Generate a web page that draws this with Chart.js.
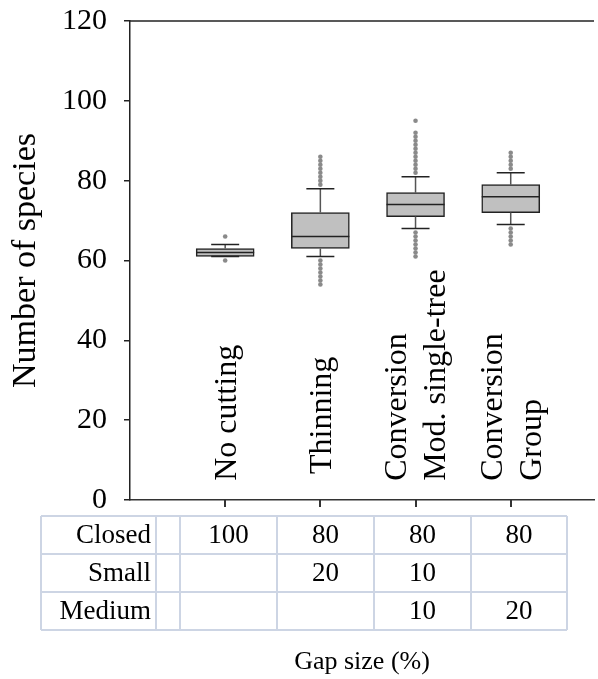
<!DOCTYPE html>
<html>
<head>
<meta charset="utf-8">
<script src="https://cdn.jsdelivr.net/npm/chart.js@4"></script>
<style>
  body { margin: 0; background: #fff; }
  #wrap { width: 598px; height: 679px; position: relative; }
</style>
</head>
<body>
<div id="wrap"><canvas id="boxChart"></canvas></div>
<script>
// Box plot data (number of species)
const categoryLabels = [['No cutting'], ['Thinning'], ['Conversion', 'Mod. single-tree'], ['Conversion', 'Group']];
const q1 = [61, 63, 71, 72];
const medians = [62, 66, 74, 76];
const q3 = [63, 72, 77, 79];
const whiskerLow = [61, 61, 68, 69];
const whiskerHigh = [64, 78, 81, 82];
const outliers = [
    [60, 66],
    [54, 55, 56, 57, 58, 59, 60, 79, 80, 81, 82, 83, 84, 85, 86],
    [61, 62, 63, 64, 65, 66, 67, 82, 83, 84, 85, 86, 87, 88, 89, 90, 91, 92, 95],
    [64, 65, 66, 67, 68, 83, 84, 85, 86, 87]
];
const yTicks = [0, 20, 40, 60, 80, 100, 120];

// Gap size table (%)
const gapRows = ['Closed', 'Small', 'Medium'];
const closedGap = [100, 80, 80, 80];
const smallGap = [null, 20, 10, null];
const mediumGap = [null, null, 10, 20];

const FONT = "'Liberation Serif', 'Times New Roman', serif";

const boxData = categoryLabels.map((c, i) => ({ x: i + 1, y: [q1[i], q3[i]] }));
const outlierData = [];
outliers.forEach((list, i) => list.forEach(v => outlierData.push({ x: i + 1, y: v })));

// whiskers, medians, labels and the gap table
const boxExtras = {
    id: 'boxExtras',
    afterDatasetsDraw(chart) {
        const { ctx, chartArea, scales: { x, y } } = chart;
        ctx.save();
        categoryLabels.forEach((c, i) => {
            const cx = x.getPixelForValue(i + 1);
            const half = 29, cap = 14;
            // stems
            ctx.strokeStyle = '#555';
            ctx.lineWidth = 1.5;
            ctx.beginPath();
            ctx.moveTo(cx, y.getPixelForValue(q3[i]));
            ctx.lineTo(cx, y.getPixelForValue(whiskerHigh[i]));
            ctx.moveTo(cx, y.getPixelForValue(q1[i]));
            ctx.lineTo(cx, y.getPixelForValue(whiskerLow[i]));
            ctx.stroke();
            // caps + median
            ctx.strokeStyle = '#222';
            ctx.beginPath();
            ctx.moveTo(cx - cap, y.getPixelForValue(whiskerHigh[i]));
            ctx.lineTo(cx + cap, y.getPixelForValue(whiskerHigh[i]));
            ctx.moveTo(cx - cap, y.getPixelForValue(whiskerLow[i]));
            ctx.lineTo(cx + cap, y.getPixelForValue(whiskerLow[i]));
            ctx.moveTo(cx - half, y.getPixelForValue(medians[i]));
            ctx.lineTo(cx + half, y.getPixelForValue(medians[i]));
            ctx.stroke();
            // rotated category label
            ctx.fillStyle = '#000';
            ctx.font = '32px ' + FONT;
            ctx.textAlign = 'left';
            ctx.textBaseline = 'middle';
            const lines = c;
            const start = i === 1 ? 6.5 : 4.8;
            lines.forEach((line, k) => {
                const off = (k - (lines.length - 1) / 2) * 39;
                ctx.save();
                ctx.translate(cx + off, y.getPixelForValue(start));
                ctx.rotate(-Math.PI / 2);
                ctx.fillText(line, 0, 2);
                ctx.restore();
            });
        });
        // top frame line
        ctx.strokeStyle = '#222';
        ctx.lineWidth = 1.5;
        ctx.beginPath();
        ctx.moveTo(chartArea.left, chartArea.top);
        ctx.lineTo(chartArea.right, chartArea.top);
        ctx.stroke();
        ctx.restore();
    },
    afterDraw(chart) {
        const { ctx, chartArea, scales: { x } } = chart;
        // x tick marks below the axis
        ctx.save();
        ctx.strokeStyle = '#333';
        ctx.lineWidth = 2;
        ctx.beginPath();
        categoryLabels.forEach((c, i) => {
            const cx = Math.round(x.getPixelForValue(i + 1));
            ctx.moveTo(cx, chartArea.bottom);
            ctx.lineTo(cx, chartArea.bottom + 7);
        });
        ctx.stroke();
        ctx.restore();

        const cols = [41, 156, 180, 277, 374, 471, 567];
        const rowsY = [516, 554, 592, 630];
        const values = [closedGap, smallGap, mediumGap];
        ctx.save();
        ctx.strokeStyle = '#cdd5e4';
        ctx.lineWidth = 2;
        ctx.beginPath();
        rowsY.forEach(ry => { ctx.moveTo(cols[0], ry); ctx.lineTo(cols[cols.length - 1], ry); });
        cols.forEach(cx => { ctx.moveTo(cx, rowsY[0]); ctx.lineTo(cx, rowsY[rowsY.length - 1]); });
        ctx.stroke();
        ctx.fillStyle = '#000';
        ctx.font = '27px ' + FONT;
        ctx.textBaseline = 'middle';
        gapRows.forEach((name, r) => {
            const my = (rowsY[r] + rowsY[r + 1]) / 2 + 1;
            ctx.textAlign = 'right';
            ctx.fillText(name, 151, my);
            ctx.textAlign = 'center';
            values[r].forEach((v, c) => {
                if (v === null) return;
                ctx.fillText(String(v), (cols[c + 2] + cols[c + 3]) / 2, my);
            });
        });
        ctx.restore();
    }
};

const ctx = document.getElementById('boxChart').getContext('2d');
const boxChart = new Chart(ctx, {
    type: 'bar',
    data: {
        datasets: [
            {
                type: 'bar',
                data: boxData,
                backgroundColor: '#c0c0c0',
                borderColor: '#222',
                borderWidth: 1.5,
                borderSkipped: false,
                barThickness: 58,
                order: 0
            },
            {
                type: 'scatter',
                data: outlierData,
                backgroundColor: '#8a8a8a',
                borderWidth: 0,
                pointRadius: 2.3,
                order: 1
            }
        ]
    },
    options: {
        responsive: true,
        maintainAspectRatio: false,
        animation: false,
        devicePixelRatio: 1,
        layout: { padding: { top: 21, right: 0, left: 0, bottom: 0 } },
        plugins: { legend: { display: false }, tooltip: { enabled: false } },
        scales: {
            x: {
                type: 'linear',
                min: 0,
                max: 4.875,
                offset: false,
                afterBuildTicks: s => { s.ticks = categoryLabels.map((c, i) => ({ value: i + 1 })); },
                afterFit: s => { s.height = 179; },
                ticks: { display: false },
                grid: { display: false },
                border: { display: true, color: '#333', width: 1.5 },
                title: {
                    display: true,
                    text: 'Gap size (%)',
                    color: '#000',
                    font: { family: FONT, size: 26, lineHeight: 1 },
                    padding: { top: 0, bottom: 4 }
                }
            },
            y: {
                min: 0,
                max: 120,
                afterBuildTicks: s => { s.ticks = yTicks.map(v => ({ value: v })); },
                afterFit: s => { s.width = 130; s.paddingTop = 0; s.paddingBottom = 0; },
                ticks: { color: '#000', padding: 17, font: { family: FONT, size: 30 } },
                grid: { drawOnChartArea: false, drawTicks: true, tickLength: 6, color: '#222', lineWidth: 1.5 },
                border: { display: true, color: '#222', width: 1.5 },
                title: {
                    display: true,
                    text: 'Number of species',
                    color: '#000',
                    font: { family: FONT, size: 34, lineHeight: 1 },
                    padding: { top: 9, bottom: 0 }
                }
            }
        }
    },
    plugins: [boxExtras]
});
</script>
</body>
</html>
